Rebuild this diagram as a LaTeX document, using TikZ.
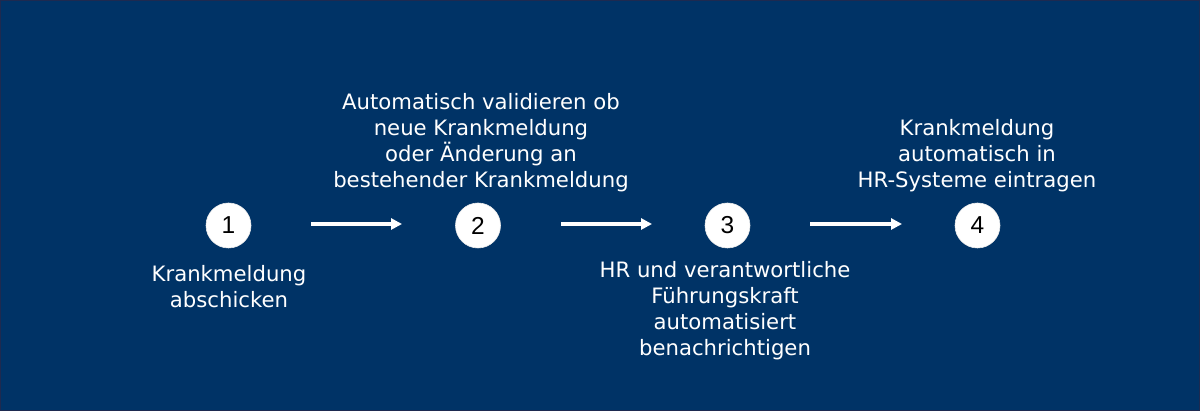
\documentclass[tikz,border=0pt]{standalone}
\usepackage{fontspec}
\setmainfont{DejaVu Sans}
\newfontfamily\digitfont{Liberation Sans}
\usetikzlibrary{arrows.meta}
\definecolor{bgnavy}{RGB}{0,51,102}
\definecolor{edgenavy}{RGB}{30,42,80}
\begin{document}
\begin{tikzpicture}[x=1pt,y=-1pt,
  stepnum/.style={circle,fill=white,draw=white!85!gray,line width=0.6pt,minimum size=45pt,inner sep=0pt,font=\digitfont\fontsize{24.5}{24.5}\selectfont,text=black},
  label/.style={align=center,text=white,inner sep=0pt,font=\fontsize{21.2}{26}\selectfont},
  flow/.style={draw=white,line width=3.5pt,-{Triangle[length=11pt,width=11pt]}}]
\fill[bgnavy] (0,0) rectangle (1200,411);
\draw[edgenavy,line width=1pt] (0.5,0.5) rectangle (1199.5,410.5);
\useasboundingbox (0,0) rectangle (1200,411);
\node[stepnum] (n1) at (228.5,225.5) {1};
\node[stepnum] (n2) at (478,225.5) {2};
\node[stepnum] (n3) at (727.5,225.5) {3};
\node[stepnum] (n4) at (977.5,225.5) {4};
\coordinate (a1s) at (311,224); \coordinate (a1e) at (402,224);
\coordinate (a2s) at (561,224); \coordinate (a2e) at (652,224);
\coordinate (a3s) at (810,224); \coordinate (a3e) at (902,224);
\draw[flow] (a1s) -- (a1e);
\draw[flow] (a2s) -- (a2e);
\draw[flow] (a3s) -- (a3e);
\node[label] (t1) at (229,286.5) {Krankmeldung\\abschicken};
\node[label] (t2) at (481,143) {Automatisch validieren ob\\neue Krankmeldung\\oder Änderung an\\bestehender Krankmeldung};
\node[label] (t3) at (725,310.5) {HR und verantwortliche\\Führungskraft\\automatisiert\\benachrichtigen};
\node[label] (t4) at (977,155.5) {Krankmeldung\\automatisch in\\HR-Systeme eintragen};
\end{tikzpicture}
\end{document}
